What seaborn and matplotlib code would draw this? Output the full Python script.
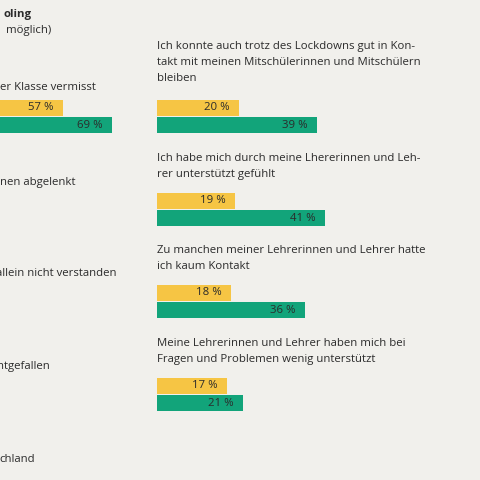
import matplotlib.pyplot as plt
import seaborn as sns

# ======================
# DATA
# ======================
left_title = "oling"
left_sub = "möglich)"
left_first = "der Klasse vermisst"
left_vals = [57, 69]
left_rows = ["nen abgelenkt", "allein nicht verstanden", "ntgefallen"]
left_source = "chland"

right_labels = [
    "Ich konnte auch trotz des Lockdowns gut in Kon-\ntakt mit meinen Mitschülerinnen und Mitschülern\nbleiben",
    "Ich habe mich durch meine Lhererinnen und Leh-\nrer unterstützt gefühlt",
    "Zu manchen meiner Lehrerinnen und Lehrer hatte\nich kaum Kontakt",
    "Meine Lehrerinnen und Lehrer haben mich bei\nFragen und Problemen wenig unterstützt",
]
right_first = [20, 19, 18, 17]
right_second = [39, 41, 36, 21]
series = ["a", "b"]

BG = "#f1f0ec"
YELLOW = "#f6c544"
GREEN = "#12a47a"
TXT = "#2b2b2b"
W = H = 480
PX = 4.1  # pixels per percent
FS = 8.2

sns.set_theme(style="white")
plt.rcParams["font.family"] = ["Open Sans", "DejaVu Sans"]
fig = plt.figure(figsize=(4.8, 4.8), dpi=100, facecolor=BG)


def bar_axes(x0, ytop, vals):
    width_px = 100 * PX
    ax = fig.add_axes([x0 / W, 1 - (ytop + 35) / H, width_px / W, 35 / H])
    ax.set_facecolor("none")
    sns.barplot(x=vals, y=series, hue=series, palette=[YELLOW, GREEN],
                orient="h", width=0.92, legend=False, ax=ax, saturation=1,
                linewidth=0)
    ax.set_xlim(0, 100)
    ax.axis("off")
    for i, v in enumerate(vals):
        ax.text(v - 9 / PX, i, f"{v} %", ha="right", va="center",
                fontsize=FS, color=TXT)


def txt(x, y, s, **kw):
    fig.text(x / W, 1 - y / H, s, fontsize=FS, color=TXT, va="center", **kw)


# left column (cropped in the reference)
txt(32, 14, left_title, ha="right", fontweight="bold")
txt(51, 31, left_sub, ha="right")
txt(96, 87, left_first, ha="right")
bar_axes(-171, 99, left_vals)
for y, xr, s in zip([182, 273, 366], [75, 117, 50], left_rows):
    txt(xr, y, s, ha="right")
txt(35, 460, left_source, ha="right")

# right column
tops = [50, 162, 254, 347]
bar_tops = [99, 192, 284, 377]
for lab, t, bt, a, b in zip(right_labels, tops, bar_tops, right_first, right_second):
    fig.text(157 / W, 1 - (t - 9) / H, lab, fontsize=FS, color=TXT,
             va="top", linespacing=1.6)
    bar_axes(157, bt, [a, b])

fig.savefig("out.png", dpi=100, facecolor=BG)
